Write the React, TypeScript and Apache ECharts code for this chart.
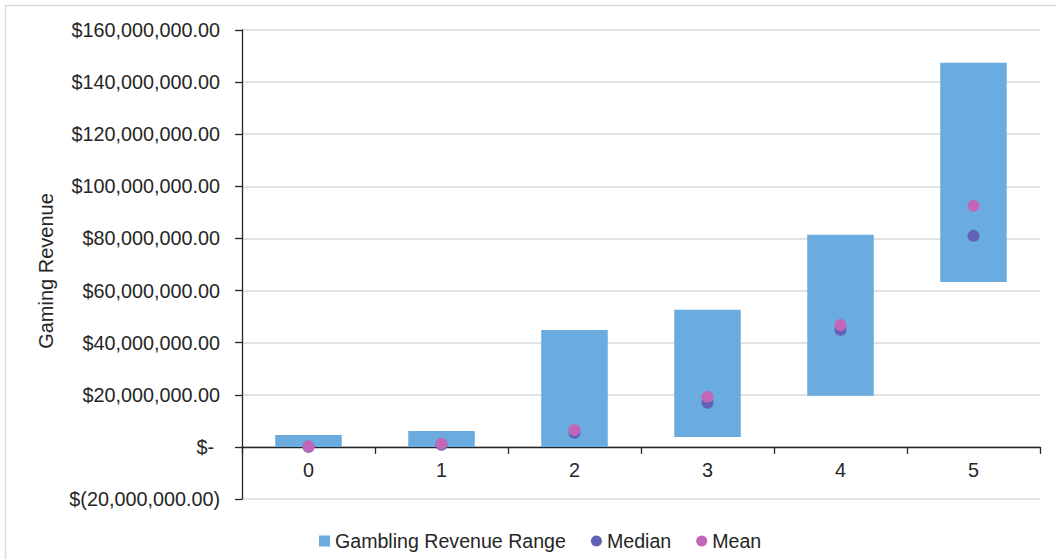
import React, { useEffect, useRef } from "react";
import * as echarts from "echarts";

const categories = ["0", "1", "2", "3", "4", "5"];
const rangeLow = [0, 0, 0, 3800000, 19600000, 63300000];
const rangeHigh = [4600000, 6100000, 44900000, 52600000, 81400000, 147400000];
const median = [0, 800000, 5400000, 16900000, 44900000, 81000000];
const mean = [200000, 1200000, 6500000, 19200000, 46800000, 92500000];

const FONT = "Liberation Sans, Arial, sans-serif";
const FS = 19.8;

function fmtMoney(v: number): string {
  if (v === 0) return "{z|$-}";
  const s = Math.abs(v).toLocaleString("en-US", {
    minimumFractionDigits: 2,
    maximumFractionDigits: 2,
  });
  return v < 0 ? "$(" + s + ")" : "$" + s;
}

export default function App() {
  const ref = useRef<HTMLDivElement>(null);
  useEffect(() => {
    if (!ref.current) return;
    const chart = echarts.init(ref.current, undefined, { renderer: "svg" });
    const rangeSpan = rangeHigh.map((h, i) => h - rangeLow[i]);
    const gridTop = 30;
    const gridBottom = 60;
    const plotH = 559 - gridTop - gridBottom;
    const zeroOffset = (plotH * 20000000) / 180000000;
    chart.setOption({
      animation: false,
      backgroundColor: "#ffffff",
      textStyle: { fontFamily: FONT },
      graphic: [
        {
          type: "rect",
          shape: { x: 5.5, y: 5.5, width: 1100, height: 600 },
          style: { fill: "none", stroke: "#d9d9d9", lineWidth: 1.5 },
          silent: true,
          z: -10,
        },
      ],
      grid: { left: 242, right: 16, top: gridTop, bottom: gridBottom },
      legend: {
        left: 314,
        top: 526,
        itemGap: 25,
        textStyle: { fontSize: 19.6, color: "#262626", fontFamily: FONT },
        data: [
          { name: "Gambling Revenue Range", icon: "rect", itemStyle: { color: "#6aace0" } },
          { name: "Median", icon: "circle" },
          { name: "Mean", icon: "circle" },
        ],
        itemWidth: 11,
        itemHeight: 11,
        selectedMode: false,
      },
      xAxis: {
        type: "category",
        data: categories,
        offset: -zeroOffset,
        axisLine: { onZero: false, lineStyle: { color: "#262626", width: 1.3 } },
        axisTick: { show: true, length: 7, lineStyle: { color: "#262626", width: 1.3 } },
        axisLabel: { fontSize: FS, color: "#262626", margin: 13, fontFamily: FONT },
        splitLine: { show: false },
      },
      yAxis: {
        type: "value",
        min: -20000000,
        max: 160000000,
        interval: 20000000,
        name: "Gaming Revenue",
        nameLocation: "middle",
        nameGap: 186,
        nameTextStyle: {
          fontSize: 20,
          color: "#262626",
          fontFamily: FONT,
          padding: [0, 13, 0, 0],
        },
        axisLine: { show: true, lineStyle: { color: "#262626", width: 1.3 } },
        axisTick: { show: true, length: 7, lineStyle: { color: "#262626", width: 1.3 } },
        axisLabel: {
          fontSize: FS,
          color: "#262626",
          margin: 22,
          fontFamily: FONT,
          formatter: (v: number) => fmtMoney(v),
          rich: {
            z: { fontSize: FS, color: "#262626", fontFamily: FONT, padding: [0, 6, 0, 0] },
          },
        },
        splitLine: { show: true, lineStyle: { color: "#d9d9d9", width: 1.5 } },
      },
      series: [
        {
          name: "base",
          type: "bar",
          stack: "r",
          data: rangeLow,
          barWidth: "50%",
          itemStyle: { color: "transparent" },
          silent: true,
        },
        {
          name: "Gambling Revenue Range",
          type: "bar",
          stack: "r",
          data: rangeSpan,
          barWidth: "50%",
          itemStyle: { color: "#6aace0" },
        },
        {
          name: "Median",
          type: "scatter",
          data: median,
          symbolSize: 12,
          itemStyle: { color: "#6161b6", opacity: 1 },
          z: 5,
        },
        {
          name: "Mean",
          type: "scatter",
          data: mean,
          symbolSize: 12,
          itemStyle: { color: "#c266b9", opacity: 1 },
          z: 6,
        },
      ],
    });
    return () => chart.dispose();
  }, []);
  return (
    <div
      ref={ref}
      style={{ position: "fixed", left: 0, top: 0, width: 1056, height: 559 }}
    />
  );
}
